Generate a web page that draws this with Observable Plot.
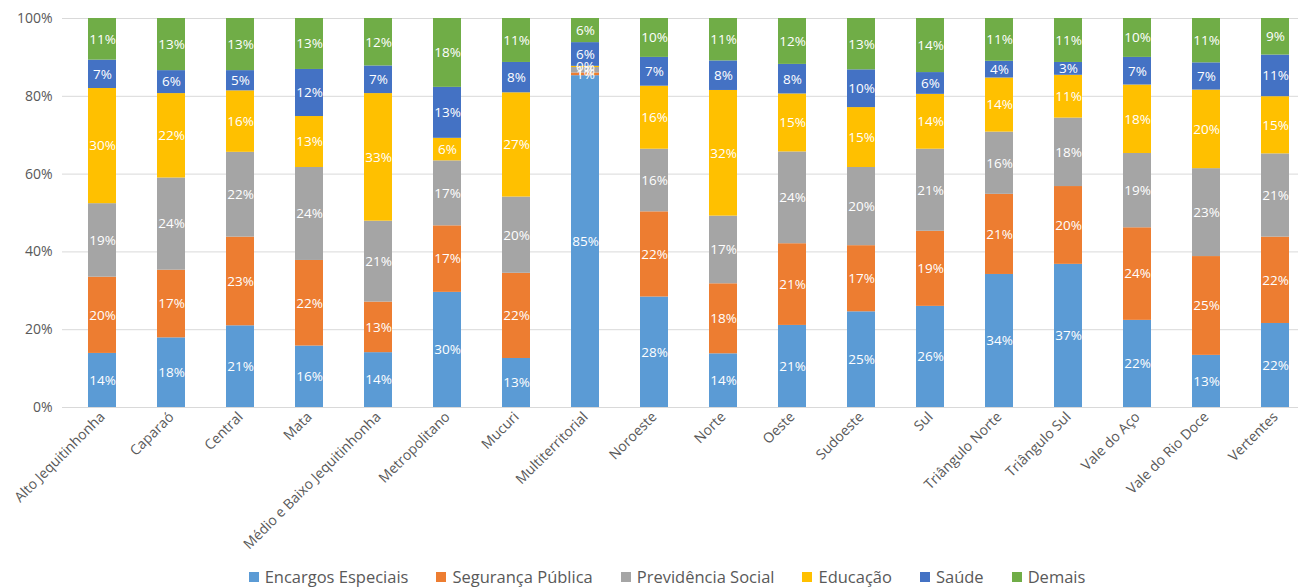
<!DOCTYPE html>
<html>
<head>
<meta charset="utf-8">
<script src="https://cdn.jsdelivr.net/npm/d3@7"></script>
<script src="https://cdn.jsdelivr.net/npm/@observablehq/plot@0.6"></script>
<style>
  html, body { margin: 0; padding: 0; background: #fff; }
  #chart { width: 1298px; height: 588px; position: relative; font-family: "Open Sans", sans-serif; }
  #legend { position: absolute; left: 0; top: 565px; width: 1298px; display: flex; justify-content: center; padding-left: 36px; box-sizing: border-box; font-size: 16.5px; color: #595959; }
  #legend .item { display: flex; align-items: center; margin: 0 14px; }
  #legend .sw { width: 10px; height: 10px; margin-right: 6px; }
</style>
</head>
<body>
<div id="chart"></div>
<script>
const categories = ["Alto Jequitinhonha","Caparaó","Central","Mata","Médio e Baixo Jequitinhonha","Metropolitano","Mucuri","Multiterritorial","Noroeste","Norte","Oeste","Sudoeste","Sul","Triângulo Norte","Triângulo Sul","Vale do Aço","Vale do Rio Doce","Vertentes"];
const seriesNames = ["Encargos Especiais","Segurança Pública","Previdência Social","Educação","Saúde","Demais"];
const seriesColors = ["#5B9BD5","#ED7D31","#A5A5A5","#FFC000","#4472C4","#70AD47"];

const encargos    = [13.9,17.9,21.0,15.8,14.1,29.6,12.6,85.3,28.4,13.8,21.1,24.6,26.0,34.2,36.8,22.4,13.4,21.6];
const seguranca   = [19.6,17.4,22.8,22.0,13.0,17.1,21.9, 0.7,21.9,18.0,21.0,17.0,19.3,20.6,20.0,23.8,25.4,22.2];
const previdencia = [18.9,23.7,21.8,23.9,20.8,16.7,19.6, 1.4,16.1,17.4,23.6,20.1,21.1,16.0,17.6,19.1,22.6,21.4];
const educacao    = [29.6,21.7,15.8,13.1,32.8, 5.8,26.8, 0.3,16.2,32.3,14.9,15.4,14.1,13.9,11.0,17.6,20.2,14.7];
const saude       = [ 7.3, 5.9, 5.2,12.1, 7.1,13.1, 7.8, 6.1, 7.4, 7.6, 7.6, 9.7, 5.6, 4.3, 3.3, 7.1, 7.0,10.7];
const demais      = [10.7,13.4,13.4,13.1,12.2,17.7,11.3, 6.2,10.0,10.9,11.8,13.2,13.9,11.0,11.3,10.0,11.4, 9.4];
const yTicks = [0,20,40,60,80,100];

const seriesValues = [encargos, seguranca, previdencia, educacao, saude, demais];
const data = [];
categories.forEach((c, i) => {
  seriesNames.forEach((s, j) => {
    data.push({category: c, series: s, value: seriesValues[j][i]});
  });
});

const W = 1298;
const chart = Plot.plot({
  width: W,
  height: 556,
  marginTop: 18,
  marginBottom: 149,
  marginLeft: 62,
  marginRight: 0,
  style: {fontFamily: "'Open Sans', sans-serif", fontSize: "13px", color: "#595959", background: "#fff"},
  x: {domain: categories, range: [64.3, 1312.6], paddingInner: 0.6, paddingOuter: 0.3, label: null},
  y: {domain: [0, 100], label: null},
  color: {domain: seriesNames, range: seriesColors},
  marks: [
    Plot.ruleY(yTicks, {stroke: "#d9d9d9", strokeWidth: 1}),
    Plot.barY(data, {x: "category", y: "value", fill: "series", z: "series", order: seriesNames}),
    Plot.text(data, Plot.stackY({x: "category", y: "value", z: "series", order: seriesNames,
      text: d => Math.round(d.value) + "%", fill: "#fff", fontSize: 13.5})),
    Plot.axisY(yTicks, {tickSize: 0, tickPadding: 10, tickFormat: d => d + "%", fontSize: 14, label: null, fill: "#595959"}),
    Plot.axisX({tickSize: 0, tickPadding: 7, tickRotate: -45, fontSize: 14, label: null, fill: "#595959"})
  ]
});
document.getElementById("chart").appendChild(chart);

const legend = document.createElement("div");
legend.id = "legend";
seriesNames.forEach((s, j) => {
  const it = document.createElement("div");
  it.className = "item";
  const sw = document.createElement("span");
  sw.className = "sw";
  sw.style.background = seriesColors[j];
  const tx = document.createElement("span");
  tx.textContent = s;
  it.appendChild(sw); it.appendChild(tx);
  legend.appendChild(it);
});
document.getElementById("chart").appendChild(legend);
</script>
</body>
</html>
